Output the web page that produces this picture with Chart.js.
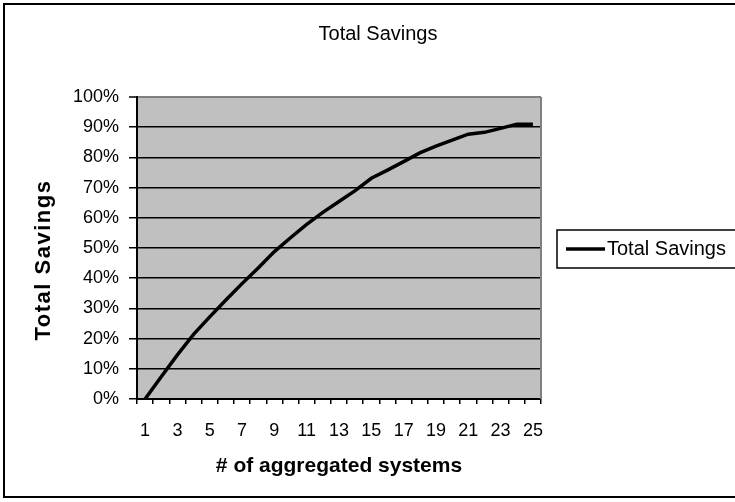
<!DOCTYPE html>
<html lang="en">
<head>
<meta charset="UTF-8">
<title>Total Savings</title>
<script src="https://cdn.jsdelivr.net/npm/chart.js@4.4.0/dist/chart.umd.min.js"></script>
<style>
    body { margin: 0; background: #fff; }
    canvas { display: block; }
</style>
</head>
<body>
<canvas id="savingsChart" width="735" height="502"></canvas>
<script>
    // x: number of aggregated systems
    const systems = [1, 2, 3, 4, 5, 6, 7, 8, 9, 10, 11, 12, 13, 14, 15, 16, 17, 18, 19, 20, 21, 22, 23, 24, 25];
    // total savings, in percent
    const savings = [0, 7.4, 14.6, 21.4, 27.2, 32.8, 38.2, 43.4, 48.8, 53.4, 57.8, 61.8, 65.4, 69.0, 73.1,
                     75.8, 78.6, 81.5, 83.7, 85.7, 87.7, 88.3, 89.6, 91.0, 91.0];

    const chartTitle = 'Total Savings';
    const xTitle = '# of aggregated systems';
    const yTitle = 'Total Savings';
    const seriesName = 'Total Savings';

    const FONT = "'Liberation Sans', Arial, sans-serif";
    Chart.defaults.font.family = FONT;
    Chart.defaults.color = '#000';

    // Excel-ish frame: grey plot area, page border, title, rotated y title, boxed legend
    const excelFrame = {
        id: 'excelFrame',
        beforeDraw(chart) {
            const { ctx, chartArea: a } = chart;
            ctx.save();
            ctx.fillStyle = '#fff';
            ctx.fillRect(0, 0, chart.width, chart.height);
            ctx.fillStyle = '#c0c0c0';
            ctx.fillRect(a.left, a.top, a.right - a.left, a.bottom - a.top);
            ctx.restore();
        },
        beforeDatasetsDraw(chart) {
            const { ctx, chartArea: a } = chart;
            ctx.save();
            ctx.strokeStyle = '#808080';
            ctx.lineWidth = 2;
            ctx.beginPath();
            ctx.moveTo(a.right, a.top);
            ctx.lineTo(a.right, a.bottom);
            ctx.stroke();
            ctx.restore();
        },
        afterDraw(chart) {
            const { ctx } = chart;
            ctx.save();
            // page border
            ctx.strokeStyle = '#000';
            ctx.lineWidth = 2;
            ctx.strokeRect(4, 4, 745, 493);

            // title
            ctx.fillStyle = '#000';
            ctx.font = '20px ' + FONT;
            ctx.textAlign = 'center';
            ctx.textBaseline = 'middle';
            ctx.fillText(chartTitle, 378, 34);

            // y axis title
            ctx.save();
            ctx.translate(44, 260);
            ctx.rotate(-Math.PI / 2);
            ctx.font = 'bold 22px ' + FONT;
            ctx.letterSpacing = '1.5px';
            ctx.fillText(yTitle, 0, 0);
            ctx.restore();

            // legend
            ctx.lineWidth = 1.5;
            ctx.strokeRect(557, 230, 190, 38);
            const ds = chart.data.datasets[0];
            ctx.strokeStyle = ds.borderColor;
            ctx.lineWidth = 3.5;
            ctx.beginPath();
            ctx.moveTo(566, 249);
            ctx.lineTo(605, 249);
            ctx.stroke();
            ctx.font = '20px ' + FONT;
            ctx.textAlign = 'left';
            ctx.fillText(ds.label, 607, 249);
            ctx.restore();
        }
    };

    const config = {
        type: 'line',
        data: {
            labels: systems,
            datasets: [{
                label: seriesName,
                data: savings,
                borderColor: '#000',
                borderWidth: 3.5,
                pointRadius: 0,
                tension: 0
            }]
        },
        options: {
            responsive: false,
            animation: false,
            layout: { padding: { left: 0, top: 97, right: 194, bottom: 0 } },
            plugins: {
                legend: { display: false },
                title: { display: false },
                tooltip: { enabled: false }
            },
            scales: {
                x: {
                    offset: true,
                    afterFit: scale => { scale.height = 103; },
                    grid: {
                        offset: true,
                        drawOnChartArea: false,
                        drawTicks: true,
                        tickLength: 5,
                        color: '#000',
                        lineWidth: 1.5
                    },
                    border: { display: true, color: '#000', width: 2 },
                    ticks: {
                        autoSkip: false,
                        maxRotation: 0,
                        padding: 16,
                        font: { size: 18 },
                        callback: (val, idx) => idx % 2 === 0 ? systems[idx] : ''
                    },
                    title: {
                        display: true,
                        text: xTitle,
                        font: { size: 21, weight: 'bold' },
                        padding: { top: 0, bottom: 23 }
                    }
                },
                y: {
                    min: 0,
                    max: 100,
                    afterFit: scale => { scale.width = 137; },
                    grid: {
                        color: c => c.tick && c.tick.value === 100 ? '#808080' : '#000',
                        lineWidth: c => c.tick && c.tick.value === 100 ? 2 : 1.5,
                        tickColor: '#000',
                        tickWidth: 1.5,
                        tickLength: 8
                    },
                    border: { display: true, color: '#000', width: 2 },
                    ticks: {
                        stepSize: 10,
                        padding: 10,
                        font: { size: 18 },
                        callback: v => v + '%'
                    }
                }
            }
        },
        plugins: [excelFrame]
    };

    const savingsChart = new Chart(document.getElementById('savingsChart'), config);
</script>
</body>
</html>
